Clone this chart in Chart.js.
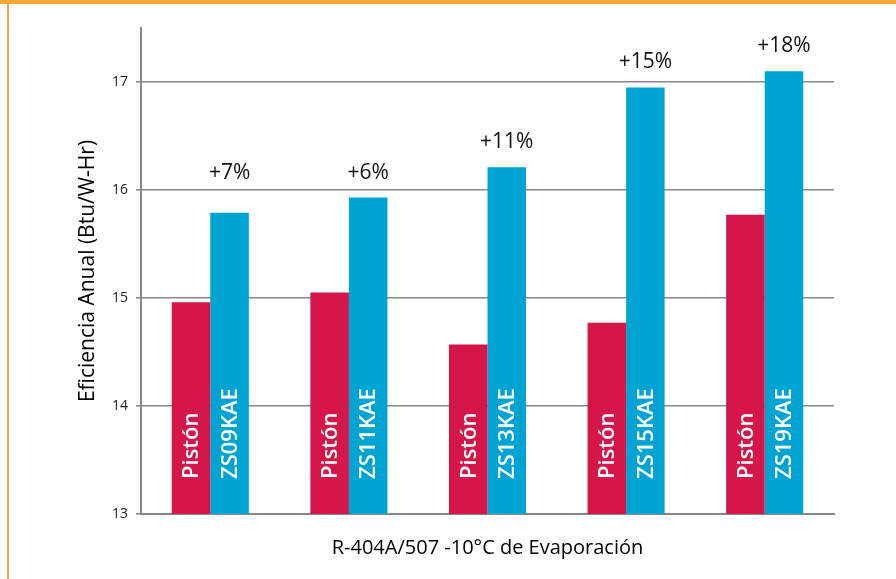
<!DOCTYPE html>
<html>
<head>
<meta charset="utf-8">
<script src="https://cdn.jsdelivr.net/npm/chart.js@4.4.1/dist/chart.umd.min.js"></script>
<style>
  html, body { margin: 0; padding: 0; background: #fff; }
  .frame { position: relative; width: 896px; height: 579px; overflow: hidden; }
  .top-band { position: absolute; left: 0; top: 0; width: 896px; height: 4px; background: #f7a738; }
  .left-line { position: absolute; left: 7px; top: 0; width: 2px; height: 579px; background: #f7a738; }
  canvas { position: absolute; left: 0; top: 0; }
</style>
</head>
<body>
<div class="frame">
  <canvas id="effChart" width="896" height="579"></canvas>
  <div class="top-band"></div>
  <div class="left-line"></div>
</div>
<script>
// data
const models = ['ZS09KAE', 'ZS11KAE', 'ZS13KAE', 'ZS15KAE', 'ZS19KAE'];
const pistonValues = [14.96, 15.05, 14.57, 14.77, 15.77];
const scrollValues = [15.79, 15.93, 16.21, 16.95, 17.10];
const gainLabels = ['+7%', '+6%', '+11%', '+15%', '+18%'];
const pistonLabel = 'Pistón';

// small vertical nudge for the gain labels (px), the first one sits higher
const gainLift = [15, 0, 0, 0, 0];

const FONT = "'Open Sans', 'Noto Sans', sans-serif";
const RED = '#d4164a';
const BLUE = '#00a4d3';
const GRID = '#878787';

// white rotated names inside each bar + gain % above the blue bars
const barText = {
  id: 'barText',
  afterDatasetsDraw(chart) {
    const ctx = chart.ctx;
    const base = chart.scales.y.getPixelForValue(13) - 35;
    ctx.save();
    ctx.fillStyle = '#fff';
    ctx.font = `600 22px ${FONT}`;
    ctx.textAlign = 'left';
    ctx.textBaseline = 'middle';
    chart.getDatasetMeta(0).data.forEach(bar => {
      ctx.save();
      ctx.translate(bar.x, base);
      ctx.rotate(-Math.PI / 2);
      ctx.fillText(pistonLabel, 0, 1);
      ctx.restore();
    });
    chart.getDatasetMeta(1).data.forEach((bar, i) => {
      ctx.save();
      ctx.translate(bar.x, base);
      ctx.rotate(-Math.PI / 2);
      ctx.fillText(models[i], 0, 1);
      ctx.restore();
    });
    ctx.fillStyle = '#111';
    ctx.font = `21px ${FONT}`;
    ctx.textAlign = 'center';
    chart.getDatasetMeta(1).data.forEach((bar, i) => {
      ctx.fillText(gainLabels[i], bar.x, bar.y - 25 - gainLift[i]);
    });
    ctx.restore();
  }
};

new Chart(document.getElementById('effChart'), {
  type: 'bar',
  data: {
    labels: models,
    datasets: [
      { label: pistonLabel, data: pistonValues, backgroundColor: RED },
      { label: 'Scroll', data: scrollValues, backgroundColor: BLUE }
    ]
  },
  options: {
    responsive: false,
    animation: false,
    events: [],
    datasets: { bar: { barPercentage: 1, categoryPercentage: 0.556 } },
    layout: { padding: { top: 28, right: 62, left: 0, bottom: 0 } },
    plugins: { legend: { display: false }, tooltip: { enabled: false } },
    scales: {
      x: {
        grid: { display: false },
        ticks: { display: false },
        border: { color: GRID, width: 2 },
        title: {
          display: true,
          text: 'R-404A/507 -10°C de Evaporación',
          color: '#000',
          font: { family: FONT, size: 20 },
          padding: { top: 0, bottom: 19 }
        },
        afterFit(scale) { scale.height = 65; }
      },
      y: {
        min: 13,
        max: 17.5,
        ticks: {
          stepSize: 1,
          color: '#222',
          padding: 8,
          font: { family: FONT, size: 14 }
        },
        afterBuildTicks(scale) {
          scale.ticks = scale.ticks.filter(t => Number.isInteger(t.value));
        },
        grid: { color: GRID, lineWidth: 1.6, tickLength: 5 },
        border: { color: GRID, width: 2 },
        title: {
          display: true,
          text: 'Eficiencia Anual (Btu/W-Hr)',
          color: '#000',
          font: { family: FONT, size: 21 },
          padding: { top: 75, bottom: 0 }
        },
        afterFit(scale) { scale.width = 141; }
      }
    }
  },
  plugins: [barText]
});
</script>
</body>
</html>
